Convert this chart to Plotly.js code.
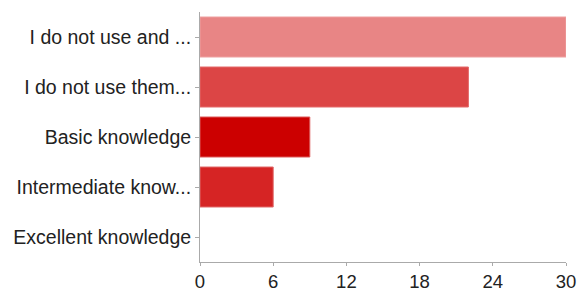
<!DOCTYPE html>
<html>
<head>
<meta charset="utf-8">
<script src="https://cdn.plot.ly/plotly-3.0.1.min.js"></script>
<style>html,body{margin:0;padding:0;background:#fff;}#chart{width:577px;height:293px;}</style>
</head>
<body>
<div id="chart"></div>
<script>
const categories = ["I do not use and ...", "I do not use them...", "Basic knowledge", "Intermediate know...", "Excellent knowledge"];
const values = [30, 22, 9, 6, 0];
const barColors = ["#e88585", "#dc4545", "#cc0000", "#d62424", "#cc0000"];
const edgeColors = ["#eea0a0", "#e46a6a", "#dd5a5a", "#e06a6a", "#cc0000"];
const edgeWidths = [1, 1, 1, 1, 0];
const xTicks = [0, 6, 12, 18, 24, 30];

Plotly.newPlot("chart", [{
  type: "bar",
  orientation: "h",
  x: values,
  y: categories,
  marker: {color: barColors, line: {color: edgeColors, width: edgeWidths}},
  hoverinfo: "none"
}], {
  width: 577, height: 293,
  margin: {l: 200, r: 11, t: 12, b: 31},
  paper_bgcolor: "#fff", plot_bgcolor: "#fff",
  bargap: 0.2,
  showlegend: false,
  font: {family: "Liberation Sans, Arial, sans-serif", size: 19, color: "#222"},
  xaxis: {
    range: [0, 30], tickvals: xTicks, ticktext: xTicks.map(String),
    showgrid: false, zeroline: false, showline: true, linecolor: "#aaa", linewidth: 1,
    ticks: "outside", ticklen: 3, tickcolor: "#aaa", tickfont: {size: 18.5, color: "#222"}
  },
  yaxis: {
    autorange: "reversed", showgrid: false, zeroline: false,
    showline: true, linecolor: "#aaa", linewidth: 1,
    ticks: "outside", ticklen: 4, tickcolor: "#aaa", tickfont: {size: 19.5, color: "#222"}
  }
}, {displayModeBar: false, staticPlot: true});
</script>
</body>
</html>
